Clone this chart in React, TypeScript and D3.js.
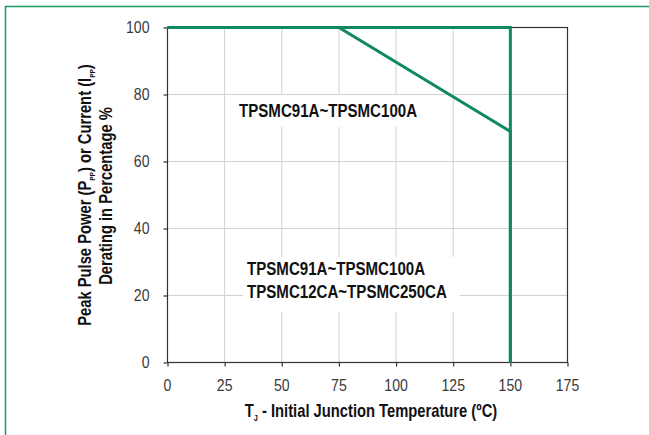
import * as d3 from "d3";
import {useEffect, useRef} from "react";

// 軸の目盛
const xTicks = [0, 25, 50, 75, 100, 125, 150, 175];
const yTicks = [0, 20, 40, 60, 80, 100];

// ディレーティング曲線 (TPSMC91A~TPSMC100A)
const deratingTemp = [0, 75, 150, 150];
const deratingPct = [100, 100, 69, 0];

// ディレーティング曲線 (TPSMC12CA~TPSMC250CA)
const flatTemp = [0, 150, 150];
const flatPct = [100, 100, 0];

const upperLabel = ["TPSMC91A~TPSMC100A"];
const lowerLabel = ["TPSMC91A~TPSMC100A", "TPSMC12CA~TPSMC250CA"];

const App = () => {
  const width = 649;
  const height = 435;
  const margin = {left: 167.5, right: 81.5, top: 27.5, bottom: 72.5};
  const svgRef = useRef<SVGSVGElement>(null!);

  const green = "#108a5c";
  const font = "'Liberation Sans', Arial, sans-serif";
  const narrow = 0.82; // Arial Narrow 風に横方向を縮める

  useEffect(() => {
    const svg = d3.select(svgRef.current);
    svg.selectAll("*").remove();

    const x = d3.scaleLinear().domain([0, 175]).range([margin.left, width - margin.right]);
    const y = d3.scaleLinear().domain([0, 100]).range([height - margin.bottom, margin.top]);

    // 細長いテキストを置くヘルパー
    const label = (px: number, py: number, size: number, bold: boolean, anchor = "start", rotate = 0, sx = narrow) =>
      svg.append("text")
        .attr("transform", `translate(${px},${py}) rotate(${rotate}) scale(${sx},1)`)
        .attr("text-anchor", anchor)
        .attr("font-family", font)
        .attr("font-weight", bold ? "bold" : "normal")
        .attr("font-size", `${size}px`)
        .attr("fill", bold ? "#111" : "#3a3a3a");

    // 外枠
    svg.append("rect")
      .attr("x", 5.5).attr("y", 6.5)
      .attr("width", 800).attr("height", 600)
      .attr("fill", "none")
      .attr("stroke", "#1f9a62")
      .attr("stroke-width", 1.5);

    // グリッド
    const grid = svg.append("g").attr("stroke", "#d0d0d0").attr("stroke-width", 1);
    grid.selectAll(".vx").data(xTicks.slice(1, -1)).enter().append("line")
      .attr("x1", d => x(d)).attr("x2", d => x(d))
      .attr("y1", y(0)).attr("y2", y(100));
    grid.selectAll(".hy").data(yTicks.slice(1, -1)).enter().append("line")
      .attr("x1", x(0)).attr("x2", x(175))
      .attr("y1", d => y(d)).attr("y2", d => y(d));

    // ラベルの白背景
    svg.append("rect")
      .attr("x", 232).attr("y", 95)
      .attr("width", 194).attr("height", 32)
      .attr("fill", "#fff");
    svg.append("rect")
      .attr("x", 243).attr("y", 257)
      .attr("width", 217).attr("height", 55)
      .attr("fill", "#fff");

    // プロット枠
    svg.append("rect")
      .attr("x", x(0)).attr("y", y(100))
      .attr("width", x(175) - x(0)).attr("height", y(0) - y(100))
      .attr("fill", "none")
      .attr("stroke", "#333")
      .attr("stroke-width", 1.2);

    // 目盛線
    const xAxis = d3.axisBottom(x).tickValues(xTicks).tickSize(4).tickFormat(() => "");
    const gx = svg.append("g").attr("transform", `translate(0,${y(0)})`).call(xAxis);
    const yAxis = d3.axisLeft(y).tickValues(yTicks).tickSize(4).tickFormat(() => "");
    const gy = svg.append("g").attr("transform", `translate(${x(0)},0)`).call(yAxis);
    [gx, gy].forEach(g => {
      g.select(".domain").remove();
      g.selectAll(".tick line").attr("stroke", "#333").attr("stroke-width", 1.2);
    });

    // 目盛ラベル
    xTicks.forEach(t => label(x(t), y(0) + 28, 16, false, "middle", 0, 0.88).text(t));
    yTicks.forEach(t => label(x(0) - 18, y(t) + 5.8, 16, false, "end", 0, 0.88).text(t));

    // 曲線
    const line = d3.line<[number, number]>().x(d => x(d[0])).y(d => y(d[1]));
    svg.append("path")
      .attr("d", line(deratingTemp.map((t, i) => [t, deratingPct[i]])))
      .attr("fill", "none").attr("stroke", green).attr("stroke-width", 3);
    svg.append("path")
      .attr("d", line(flatTemp.map((t, i) => [t, flatPct[i]])))
      .attr("fill", "none").attr("stroke", green).attr("stroke-width", 3);

    // 注記
    upperLabel.forEach((s, i) => label(239, 117 + i * 23, 18.4, true).text(s));
    lowerLabel.forEach((s, i) => label(247, 275 + i * 23, 18.4, true).text(s));

    // X軸タイトル
    const xt = label(371, 417, 18, true, "middle");
    xt.append("tspan").text("T");
    xt.append("tspan").attr("font-size", "9px").attr("dy", 4).text("J");
    xt.append("tspan").attr("dy", -4).text(" - Initial Junction Temperature (ºC)");

    // Y軸タイトル
    const t1 = label(91, 195, 18, true, "middle", -90);
    t1.append("tspan").text("Peak Pulse Power (P");
    t1.append("tspan").attr("font-size", "8px").attr("dy", 4).text("PP");
    t1.append("tspan").attr("dy", -4).text(") or Current (I");
    t1.append("tspan").attr("font-size", "8px").attr("dy", 4).text("PP");
    t1.append("tspan").attr("dy", -4).text(")");
    label(112, 196, 18, true, "middle", -90).text("Derating in Percentage %");
  }, []);

  return (
    <svg width={width} height={height} ref={svgRef}
         style={{position: "absolute", left: 0, top: 0, background: "#fff"}}/>
  );
};

export default App;
